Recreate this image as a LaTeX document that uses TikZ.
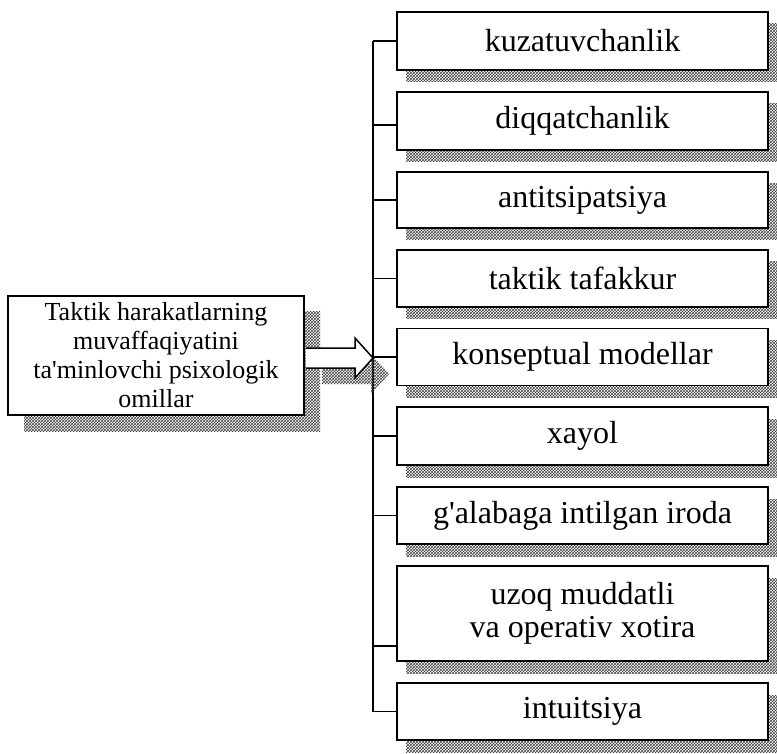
\documentclass[tikz,border=0pt]{standalone}
\usepackage{fontspec}
\setmainfont{Liberation Serif}[Ligatures=TeXOff]
\usetikzlibrary{patterns,shadows}
\begin{document}
\begin{tikzpicture}[x=1pt,y=-1pt,
  hatchshadow/.style={general shadow={pattern=crosshatch, pattern color=black!75, shadow xshift=#1, shadow yshift=-12pt}},
  box/.style={draw, line width=1.5pt, fill=white, minimum width=371pt, inner sep=0pt,
    font=\fontsize{32}{33}\selectfont, align=center, hatchshadow=9pt},
  mainbox/.style={draw, line width=1.5pt, fill=white, minimum width=296pt, minimum height=119pt, inner sep=0pt,
    font=\fontsize{26}{29}\selectfont, align=center,
    general shadow={pattern=crosshatch, pattern color=black!75, shadow xshift=16pt, shadow yshift=-16pt}},
  arrowshape/.style={draw, line width=1.5pt, fill=white, line join=miter,
    general shadow={pattern=crosshatch, pattern color=black!75, shadow xshift=16pt, shadow yshift=-16pt}},
  conn/.style={line width=1.5pt}]
\useasboundingbox (0,0) rectangle (777,754);

% right boxes
\node[box, minimum height=58pt] (b1) at (582.5,41) {kuzatuvchanlik};
\node[box, minimum height=58pt] (b2) at (582.5,121) {diqqatchanlik};
\node[box, minimum height=56pt] (b3) at (582.5,200) {antitsipatsiya};
\node[box, minimum height=57pt] (b4) at (582.5,278.5) {taktik tafakkur};
\node[box, minimum height=57pt] (b5) at (582.5,357) {konseptual modellar};
\node[box, minimum height=58pt] (b6) at (582.5,436) {xayol};
\node[box, minimum height=57pt] (b7) at (582.5,515.5) {g'alabaga intilgan iroda};
\node[box, minimum height=95pt] (b8) at (582.5,613.5) {uzoq muddatli\\va operativ xotira};
\node[box, minimum height=57pt] (b9) at (582.5,711.5) {intuitsiya};

% left box
\node[mainbox] (L) at (156,355.5) {Taktik harakatlarning\\muvaffaqiyatini\\ta'minlovchi psixologik\\omillar};

% trunk
\coordinate (ttop) at (373,41);
\coordinate (tbot) at (373,711.5);
\coordinate (tip) at (373,358);
\coordinate (t2) at (373,125);
\coordinate (t8) at (373,646);
\draw[conn] (ttop) -- (tbot);
\foreach \b in {b1,b3,b4,b5,b6,b7,b9}{
  \draw[conn] (\b.west -| ttop) -- (\b.west);
}
\draw[conn] (t2) -- (t2 -| b2.west);
\draw[conn] (t8) -- (t8 -| b8.west);

% hollow block arrow
\path[arrowshape] ([xshift=1pt]L.east |- 0,348) -- (355,348) -- (355,338) -- (tip)
  -- (355,378) -- (355,368) -- ([xshift=1pt]L.east |- 0,368);
\end{tikzpicture}
\end{document}
